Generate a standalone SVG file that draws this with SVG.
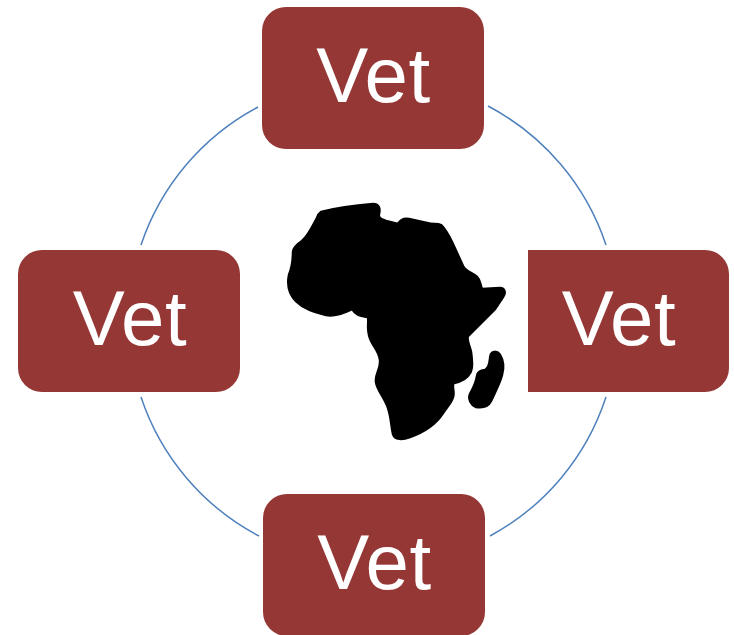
<svg xmlns="http://www.w3.org/2000/svg" width="734" height="635" viewBox="0 0 734 635">
<style>
.box{fill:#953735}
.lbl{fill:#fff;font-family:"Liberation Sans",Arial,sans-serif;font-size:78px;text-anchor:middle;letter-spacing:.5px}
.arc{fill:none;stroke:#4f81bd;stroke-width:1.5}
.map{fill:#000;stroke:#000;stroke-width:2.5;stroke-linejoin:round}
</style>
<rect width="734" height="635" fill="#fff"/>
<g id="connectors">
<path class="arc" d="M488 106A244 244 0 0 1 606 245"/>
<path class="arc" d="M606 397A244 244 0 0 1 490 536"/>
<path class="arc" d="M259 536A244 244 0 0 1 141 397"/>
<path class="arc" d="M141 245A244 244 0 0 1 258 107"/>
</g>
<g id="node-top"><rect class="box" x="262" y="7" width="222" height="142" rx="24"/><text class="lbl" x="373.5" y="102">Vet</text></g>
<g id="node-left"><rect class="box" x="18" y="250" width="222" height="142" rx="24"/><text class="lbl" x="130" y="345">Vet</text></g>
<g id="node-right"><path class="box" d="M528 250H705A24 24 0 0 1 729 274V368A24 24 0 0 1 705 392H528Z"/><text class="lbl" x="619" y="345">Vet</text></g>
<g id="node-bottom"><rect class="box" x="263" y="494" width="222" height="142" rx="24"/><text class="lbl" x="374.5" y="589">Vet</text></g>
<g id="africa">
<path class="map" d="M321 212C340 207 360 205 373 204C380 204 380 210 379 214C378 218 381 219 386 221L398 224C401 219 404 218 409 219L427 223C433 225 437 223 441 225C445 229 449 236 452 242L463 266C466 272 473 273 477 277C481 281 480 285 482 289L500 288C505 288 506 293 503 297L495 309L468 336C466 340 470 346 471 352C472 360 473 368 470 373C467 379 459 382 454 383C451 385 455 392 453 397C452 402 447 407 443 413C436 424 424 432 410 437C402 440 395 440 393 434C391 425 391 416 388 408C385 398 377 390 376 382C375 373 381 370 380 360C379 350 371 345 369 335C367 327 369 322 368 317C362 316 356 316 352 309C345 312 336 317 326 315C314 312 304 309 296 301C289 294 287 285 289 275C291 270 293 263 293 252C293 248 296 245 302 241C309 235 313 225 317 218Q318 214 321 212Z"/>
<path class="map" d="M491 354C493 351 498 351 500 355C503 360 504 368 502 375C500 383 495 392 491 401C488 407 482 408 476 407C471 405 468 399 470 394C473 388 476 384 477 376C478 371 481 371 485 370C491 367 489 359 491 354Z"/>
</g>
</svg>
